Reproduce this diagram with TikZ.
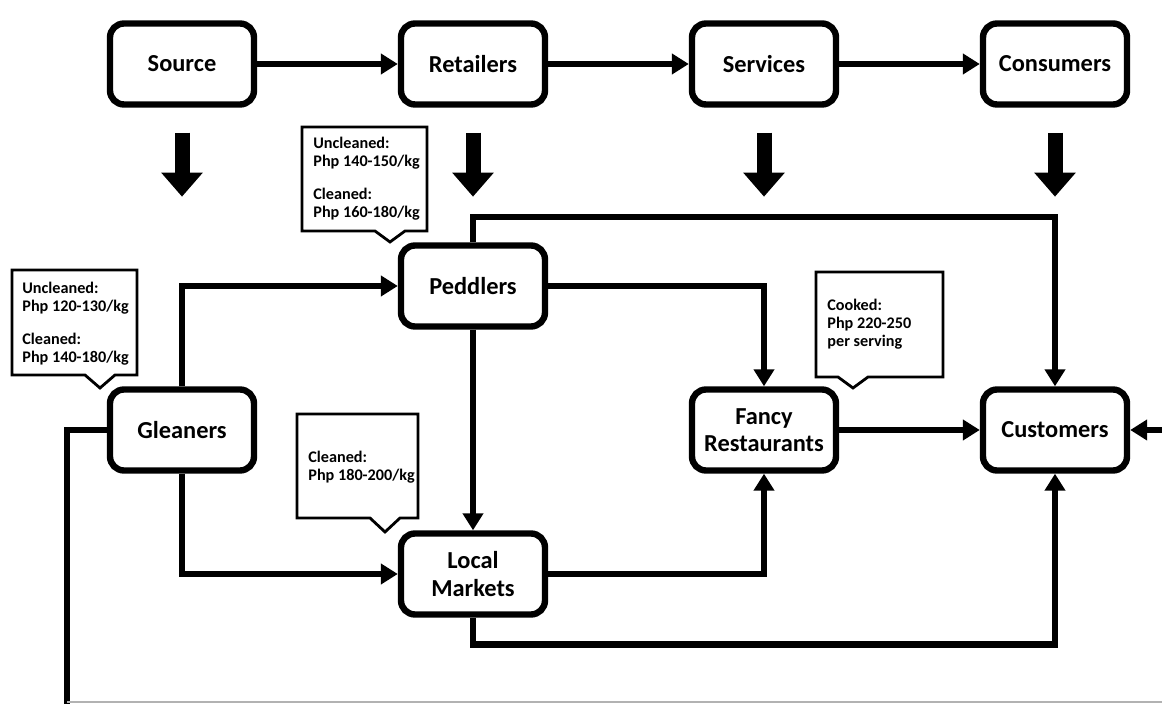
\documentclass[tikz,border=0pt]{standalone}
\usepackage{fontspec}
\setmainfont{Carlito}
\usetikzlibrary{arrows.meta}
\tikzset{every picture/.style={x=.5pt,y=-.5pt}}
\tikzset{block/.style={rectangle,rounded corners=7pt,draw,line width=3.2pt,minimum width=72pt,minimum height=40.5pt,align=center,font=\fontsize{12.2}{13.8}\selectfont\bfseries}}
\tikzset{flow/.style={line width=3.2pt,-{Triangle[length=8.5pt,width=10pt]}}}
\tikzset{link/.style={line width=3.2pt}}
\tikzset{bigarrow/.style={line width=7.5pt,-{Triangle[length=12pt,width=20pt]}}}
\tikzset{callout/.style={draw,fill=white,line width=1.4pt}}
\tikzset{price/.style={anchor=west,align=left,inner sep=0pt,font=\fontsize{8.1}{9}\selectfont\bfseries}}
\newcommand{\bubble}[6]{\draw[callout] (#1,#2) -- (#3,#2) -- (#3,#4) -- (#5+15,#4) -- (#5,#6) -- (#5-15,#4) -- (#1,#4) -- cycle;}

\begin{document}
\begin{tikzpicture}
\useasboundingbox (0,0) rectangle (1162,704);
\node [block] (source) at (182,64) {Source};
\node [block] (retailers) at (473,64) {Retailers};
\node [block] (services) at (764,64) {Services};
\node [block] (consumers) at (1055,64) {Consumers};
\node [block] (peddlers) at (473,286) {Peddlers};
\node [block] (gleaners) at (182,430) {Gleaners};
\node [block] (fancy) at (764,430) {Fancy\\Restaurants};
\node [block] (customers) at (1055,430) {Customers};
\node [block] (markets) at (473,574) {Local\\Markets};
\coordinate (footL) at (67,704);
\coordinate (rimR) at (1162,702);
\coordinate (inR) at (1162,430);
\draw [flow] (source) -- (retailers);
\draw [flow] (retailers) -- (services);
\draw [flow] (services) -- (consumers);
\draw [bigarrow] (source.south) ++(0,25) -- ++(0,64);
\draw [bigarrow] (retailers.south) ++(0,25) -- ++(0,64);
\draw [bigarrow] (services.south) ++(0,25) -- ++(0,64);
\draw [bigarrow] (consumers.south) ++(0,25) -- ++(0,64);
\draw [flow] (gleaners.north) |- (peddlers.west);
\draw [flow] (gleaners.south) |- (markets.west);
\draw [flow] (peddlers.south) -- (markets.north);
\draw [flow] (peddlers.east) -| (fancy.north);
\draw [flow] (peddlers.north) -- ++(0,-25) -| (customers.north);
\draw [flow] (fancy.east) -- (customers.west);
\draw [flow] (markets.east) -| (fancy.south);
\draw [flow] (markets.south) -- ++(0,27) -| (customers.south);
\draw [flow] (inR) -- (customers.east);
\draw [link] (gleaners.west) -| (footL);
\draw [gray!60,line width=.8pt] (footL |- rimR) -- (rimR);

\bubble{302}{127}{427}{231}{390}{242}
\node [price] (p1) at (313,179) {Uncleaned:\\Php 140-150/kg\\[7.5pt]Cleaned:\\Php 160-180/kg};
\bubble{12}{270}{137}{375}{100}{388}
\node [price] (p2) at (22,324) {Uncleaned:\\Php 120-130/kg\\[7.5pt]Cleaned:\\Php 140-180/kg};
\bubble{297}{414}{418}{518}{385}{532}
\node [price] (p3) at (308,467) {Cleaned:\\Php 180-200/kg};
\bubble{816}{272}{943}{377}{853}{388}
\node [price] (p4) at (827,324) {Cooked:\\Php 220-250\\per serving};
\end{tikzpicture}
\end{document}
